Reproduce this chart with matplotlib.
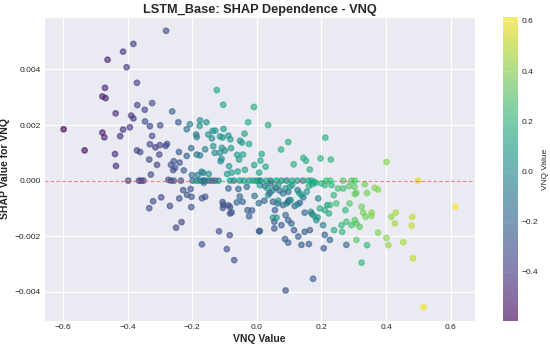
import matplotlib
matplotlib.use("Agg")
import matplotlib.pyplot as plt
import seaborn as sns
import numpy as np

# ---- data (feature value, SHAP value, colour value) ----
vnq_value = [
 -0.382,-0.414,-0.462,-0.403,-0.371,-0.470,-0.478,-0.468,-0.370,-0.324,-0.347,-0.437,-0.389,-0.382,-0.346,-0.331,
 -0.598,-0.414,-0.393,-0.478,-0.472,-0.423,-0.324,-0.331,-0.533,-0.371,-0.361,-0.439,-0.333,-0.436,-0.328,
 -0.281,-0.124,-0.104,-0.009,-0.262,-0.027,-0.243,-0.207,-0.176,-0.156,-0.177,-0.299,-0.217,-0.103,-0.137,-0.129,
 -0.188,-0.186,-0.150,-0.139,-0.114,-0.106,-0.088,-0.082,-0.038,-0.052,-0.046,-0.024,-0.314,-0.300,-0.282,-0.278,
 -0.135,-0.108,-0.099,-0.080,-0.203,-0.241,-0.217,-0.186,-0.176,-0.160,-0.130,-0.114,-0.109,-0.112,-0.061,-0.055,
 -0.043,-0.008,0.007,-0.302,-0.309,-0.266,-0.257,-0.239,-0.259,-0.253,-0.226,-0.201,-0.183,-0.171,-0.166,-0.149,
 -0.086,-0.092,-0.078,-0.059,-0.037,
 0.035,0.097,0.212,0.075,0.015,0.011,0.027,0.114,0.144,0.152,0.164,0.197,0.229,0.401,
 -0.398,-0.365,-0.358,-0.351,-0.321,-0.333,
 -0.274,-0.266,-0.257,-0.235,-0.199,-0.186,-0.176,-0.166,-0.161,-0.150,-0.140,-0.130,-0.119,-0.164,
 -0.083,-0.071,-0.053,-0.040,-0.024,-0.011,0.005,
 -0.088,-0.057,-0.031,-0.053,-0.044,-0.007,0.006,-0.062,-0.228,-0.205,-0.216,-0.202,-0.240,-0.296,-0.269,-0.203,
 -0.170,-0.160,-0.106,-0.104,-0.105,-0.088,-0.083,-0.083,-0.078,-0.029,-0.015,-0.024,0.007,-0.233,-0.250,-0.117,
 -0.084,-0.170,-0.093,-0.070,
 -0.001,0.012,0.030,0.043,0.061,0.076,0.092,0.109,0.125,0.143,0.159,0.169,0.177,0.200,0.215,0.227,0.231,0.267,
 0.293,0.303,0.285,0.302,0.308,0.303,
 0.009,0.025,0.033,0.043,0.050,0.058,0.066,0.071,0.081,0.089,0.097,0.102,0.109,0.126,0.131,0.138,0.144,0.154,
 0.161,0.171,0.182,0.190,0.210,0.218,0.223,0.238,0.251,0.267,0.274,0.287,0.277,0.303,0.293,0.308,
 0.023,0.035,0.040,0.050,0.064,0.066,0.081,0.092,0.097,0.100,0.105,0.117,0.126,0.133,0.148,0.167,0.171,0.177,
 0.188,0.195,0.210,0.226,0.246,
 0.056,0.050,0.054,0.061,0.054,0.076,0.089,0.097,0.107,0.115,0.128,0.148,0.164,0.184,0.205,0.210,0.226,0.239,
 0.262,0.264,0.277,0.308,
 0.009,0.087,0.097,0.138,0.161,0.207,0.174,0.089,
 0.334,0.365,0.375,0.341,0.499,0.615,0.324,0.329,0.337,0.355,0.355,0.318,0.430,0.416,0.427,0.481,0.479,0.375,
 0.401,0.407,0.453,0.341,0.483,0.324,0.516,
]
shap_value = [
 0.00492,0.00464,0.00435,0.00408,0.00352,0.00334,0.00303,0.00297,0.00272,0.00279,0.00255,0.00242,0.00234,0.00224,0.00213,0.00196,
 0.00185,0.00184,0.00192,0.00173,0.00156,0.00160,0.00161,0.00131,0.00109,0.00109,0.00103,0.00096,0.00076,0.00053,0.00022,
 0.00539,0.00326,0.00273,0.00265,0.00249,0.00210,0.00210,0.00203,0.00217,0.00210,0.00197,0.00199,0.00185,0.00186,0.00179,0.00180,
 0.00166,0.00157,0.00166,0.00152,0.00159,0.00155,0.00162,0.00149,0.00169,0.00144,0.00137,0.00132,0.00120,0.00128,0.00125,0.00132,
 0.00124,0.00118,0.00108,0.00117,0.00117,0.00103,0.00089,0.00094,0.00091,0.00113,0.00100,0.00100,0.00078,0.00070,0.00093,0.00076,
 0.00094,0.00056,0.00029,0.00094,0.00057,0.00057,0.00070,0.00065,0.00038,0.00046,0.00037,0.00020,0.00020,0.00032,0.00028,0.00024,
 0.00052,0.00024,0.00029,0.00033,0.00039,
 0.00200,0.00139,0.00155,0.00112,0.00096,0.00072,0.00050,0.00059,0.00082,0.00072,0.00040,0.00080,0.00076,0.00067,
 0.0,0.0,0.0,0.0,-0.00074,-0.00099,
 0.00003,0.0,0.0,0.0,0.0,0.0,0.0,0.0,0.0,0.0,0.0,0.0,0.0,-0.00008,
 0.0,0.0,0.0,0.0,0.0,0.0,0.0,
 -0.00028,-0.00030,-0.00022,-0.00057,-0.00076,-0.00055,-0.00081,-0.00078,-0.00034,-0.00030,-0.00051,-0.00058,-0.00064,-0.00060,-0.00091,-0.00095,
 -0.00063,-0.00058,-0.00077,-0.00087,-0.00098,-0.00089,-0.00095,-0.00118,-0.00114,-0.00106,-0.00107,-0.00128,-0.00182,-0.00149,-0.00169,-0.00182,
 -0.00196,-0.00229,-0.00246,-0.00286,
 0.0,0.0,0.0,0.0,0.0,0.0,0.0,0.0,0.0,0.0,0.0,0.0,-0.00004,-0.00010,0.0,0.0,-0.00016,0.0,
 0.0,0.0,-0.00020,-0.00022,-0.00044,-0.00048,
 -0.00016,-0.00020,-0.00028,-0.00010,-0.00034,-0.00025,-0.00016,-0.00036,-0.00046,-0.00028,-0.00040,-0.00022,-0.00016,-0.00034,-0.00044,-0.00052,-0.00060,-0.00040,
 -0.00020,-0.00013,-0.00008,-0.00064,-0.00016,-0.00088,-0.00118,-0.00052,-0.00028,-0.00028,-0.00106,-0.00082,-0.00148,-0.00142,-0.00160,-0.00154,
 -0.00072,-0.00052,-0.00044,-0.00076,-0.00082,-0.00072,-0.00088,-0.00082,-0.00076,-0.00070,-0.00070,-0.00091,-0.00085,-0.00080,-0.00115,-0.00112,-0.00120,-0.00127,
 -0.00132,-0.00100,-0.00106,-0.00088,-0.00082,
 -0.00106,-0.00133,-0.00148,-0.00133,-0.00172,-0.00160,-0.00124,-0.00142,-0.00154,-0.00178,-0.00201,-0.00184,-0.00178,-0.00142,-0.00160,-0.00195,-0.00213,-0.00178,
 -0.00160,-0.00184,-0.00231,-0.00213,
 -0.00181,-0.00210,-0.00223,-0.00231,-0.00228,-0.00243,-0.00353,-0.00395,
 -0.00013,-0.00026,-0.00032,-0.00044,0.0,-0.00094,-0.00094,-0.00115,-0.00130,-0.00115,-0.00127,-0.00166,-0.00115,-0.00130,-0.00154,-0.00130,-0.00162,-0.00187,
 -0.00206,-0.00232,-0.00221,-0.00232,-0.00279,-0.00295,-0.00455,
]
colour_value = [
 -0.38,-0.42,-0.50,-0.40,-0.38,-0.48,-0.50,-0.50,-0.35,-0.33,-0.35,-0.45,-0.40,-0.38,-0.30,-0.33,
 -0.595,-0.42,-0.40,-0.50,-0.48,-0.43,-0.33,-0.33,-0.55,-0.35,-0.35,-0.45,-0.33,-0.45,-0.33,
 -0.33,0.10,0.10,0.15,-0.20,0.12,-0.25,-0.08,0.00,0.00,0.00,-0.30,-0.15,0.05,0.05,0.05,
 -0.10,-0.10,0.00,-0.02,0.02,0.05,0.05,0.05,0.10,0.05,0.05,0.10,-0.40,-0.35,-0.35,-0.30,
 0.00,0.00,0.00,0.05,-0.20,-0.25,-0.25,-0.10,-0.10,-0.05,-0.05,0.00,0.00,0.00,0.05,0.05,
 0.10,0.10,0.10,-0.35,-0.35,-0.30,-0.30,-0.30,-0.30,-0.30,-0.25,-0.15,-0.10,-0.05,-0.05,0.00,
 0.05,0.05,0.10,0.10,0.10,
 0.15,0.15,0.15,0.15,0.12,0.12,0.12,0.15,0.15,0.15,0.15,0.18,0.18,0.40,
 -0.35,-0.35,-0.35,-0.35,-0.33,-0.33,
 -0.30,-0.30,-0.30,-0.30,-0.20,-0.15,-0.10,-0.20,-0.25,-0.20,-0.15,-0.25,-0.10,-0.10,
 0.05,-0.10,0.05,0.00,0.05,0.05,0.10,
 -0.20,-0.20,-0.20,-0.20,-0.20,-0.15,-0.20,-0.20,-0.30,-0.30,-0.30,-0.30,-0.30,-0.33,-0.33,-0.30,
 -0.30,-0.30,-0.30,-0.30,-0.30,-0.30,-0.30,-0.30,-0.30,-0.25,-0.25,-0.25,-0.25,-0.35,-0.35,-0.30,
 -0.30,-0.30,-0.30,-0.30,
 0.10,-0.10,0.10,-0.15,0.10,0.00,-0.10,0.10,0.05,-0.10,0.15,0.10,0.10,0.20,0.25,0.25,0.20,0.30,
 0.30,0.30,0.30,0.32,0.33,0.33,
 0.05,-0.20,0.10,-0.15,0.05,-0.20,0.10,-0.20,-0.10,0.05,-0.20,0.10,0.05,-0.15,0.05,0.10,-0.10,0.05,
 0.15,0.10,0.15,-0.05,0.20,0.10,0.15,0.20,0.25,0.25,0.20,0.30,0.25,0.30,0.25,0.30,
 -0.20,0.05,-0.20,-0.25,-0.20,0.05,-0.20,0.05,-0.25,-0.20,0.05,-0.20,0.05,-0.20,-0.20,0.10,-0.20,0.10,
 0.10,0.15,0.15,0.20,0.25,
 -0.25,0.05,-0.25,0.05,-0.25,-0.25,-0.20,-0.25,-0.20,-0.25,-0.25,-0.25,-0.25,0.00,-0.10,-0.25,-0.20,0.15,
 0.20,0.20,-0.20,0.30,
 -0.25,-0.25,-0.25,-0.25,-0.25,-0.25,-0.25,-0.30,
 0.35,0.38,0.38,0.35,0.55,0.615,0.35,0.35,0.35,0.38,0.38,0.30,0.45,0.42,0.45,0.50,0.50,0.38,
 0.40,0.42,0.45,0.20,0.50,0.20,0.58,
]

sns.set_style("darkgrid")
plt.rcParams['font.family'] = ['Liberation Sans', 'DejaVu Sans']

fig = plt.figure(figsize=(5.5, 3.47), dpi=100)
ax = fig.add_axes([0.080, 0.075, 0.784, 0.876])
cax = fig.add_axes([0.915, 0.075, 0.027, 0.876])

sc = ax.scatter(vnq_value, shap_value, c=colour_value, cmap='viridis',
                alpha=0.6, s=15)
ax.axhline(0, color='#e04848', linestyle='--', linewidth=0.8, alpha=0.65)

ax.set_title('LSTM_Base: SHAP Dependence - VNQ', fontsize=9.2, fontweight='bold', pad=3)
ax.set_xlabel('VNQ Value', fontsize=7.5, fontweight='bold', labelpad=2)
ax.set_ylabel('SHAP Value for VNQ', fontsize=7.5, fontweight='bold', labelpad=3)
ax.tick_params(axis='both', labelsize=6, pad=2.5, length=0)
ax.set_xticks([-0.6, -0.4, -0.2, 0.0, 0.2, 0.4, 0.6])
ax.set_yticks([-0.004, -0.002, 0.0, 0.002, 0.004])

cb = fig.colorbar(sc, cax=cax)
cb.set_label('VNQ Value', fontsize=6, labelpad=3)
cb.set_ticks([-0.4, -0.2, 0.0, 0.2, 0.4, 0.6])
cb.ax.tick_params(labelsize=6, pad=2.5, length=0)
cb.outline.set_visible(False)

fig.savefig('out.png', dpi=100)
